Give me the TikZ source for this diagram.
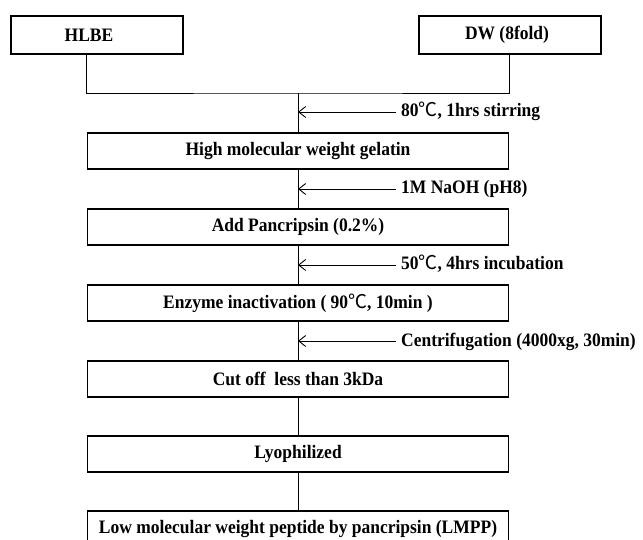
\documentclass[tikz,border=0pt]{standalone}
\usepackage{fontspec}
\setmainfont{Liberation Serif}[FakeStretch=0.92]
\newfontfamily\cjk{Noto Sans CJK KR}
\usetikzlibrary{arrows.meta}

\begin{document}
\begin{tikzpicture}
[x=1pt,y=-1pt,
font=\fontsize{19}{22}\selectfont\bfseries,
stepbox/.style={draw,line width=1.3pt,minimum width=421pt,minimum height=36pt,inner sep=0pt},
srcbox/.style={draw,line width=1.3pt,minimum height=38pt,inner sep=0pt},
cond/.style={anchor=west,inner xsep=5pt,inner ysep=0pt,text height=13pt,text depth=3pt},
link/.style={line width=0.9pt},
add/.style={link,-{Straight Barb[length=7pt,width=11pt]}}]

\useasboundingbox (0,0) rectangle (643,540);

% starting materials
\node [srcbox,minimum width=172pt,label={[xshift=-8pt]center:HLBE}] (hlbe) at (97,35) {};
\node [srcbox,minimum width=182pt,label={[xshift=-3pt]center:DW (8fold)}] (dw) at (510,35) {};

% process steps
\node [stepbox] (gelatin) at (298,151) {High molecular weight gelatin};
\node [stepbox] (pancripsin) at (298,227) {Add Pancripsin (0.2\%)};
\node [stepbox] (inact) at (298,303) {Enzyme inactivation ( 90{\cjk\mdseries ℃}, 10min )};
\node [stepbox] (cutoff) at (298,379) {Cut off\ \ less than 3kDa};
\node [stepbox] (lyo) at (298,454) {Lyophilized};
\node [stepbox] (lmpp) at (298,529) {Low molecular weight peptide by pancripsin (LMPP)};

% conditions
\node [cond] (c1) at (396,112) {80{\cjk\mdseries ℃}, 1hrs stirring};
\node [cond] (c2) at (396,189) {1M NaOH (pH8)};
\node [cond] (c3) at (396,265) {50{\cjk\mdseries ℃}, 4hrs incubation};
\node [cond] (c4) at (396,341) {Centrifugation (4000xg, 30min)};

\coordinate (join) at (298,93);

\draw [link] (hlbe.south -| gelatin.west) |- (join) -| (dw.south -| gelatin.east);
\draw [link] (join) -- (gelatin);
\draw [link] (gelatin) -- (pancripsin);
\draw [link] (pancripsin) -- (inact);
\draw [link] (inact) -- (cutoff);
\draw [link] (cutoff) -- (lyo);
\draw [link] (lyo) -- (lmpp);

\draw [add] (c1.west) -- (c1.west -| gelatin);
\draw [add] (c2.west) -- (c2.west -| gelatin);
\draw [add] (c3.west) -- (c3.west -| gelatin);
\draw [add] (c4.west) -- (c4.west -| gelatin);

\end{tikzpicture}
\end{document}
